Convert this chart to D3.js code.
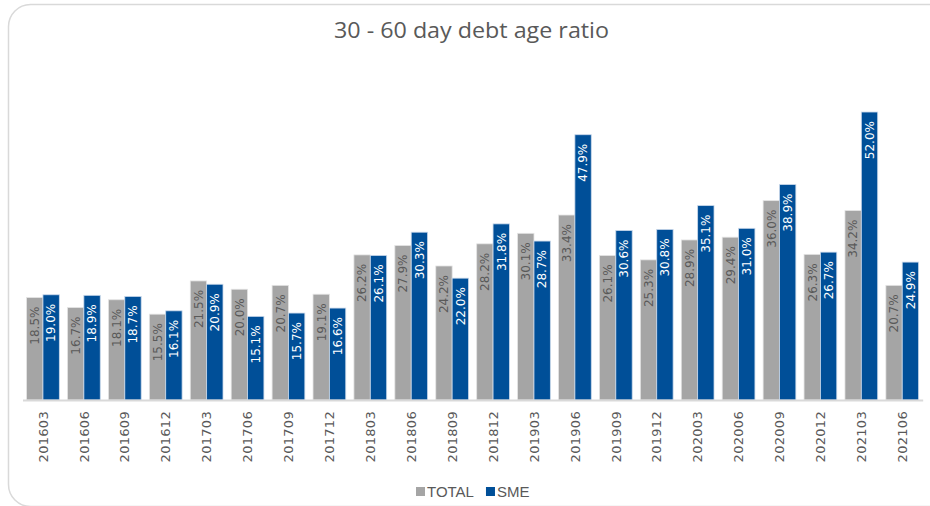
<!DOCTYPE html>
<html><head><meta charset="utf-8">
<script src="https://cdn.jsdelivr.net/npm/d3@7"></script>
<style>html,body{margin:0;padding:0;background:#fff;}svg{display:block;}</style>
</head><body>
<svg id="c" width="930" height="506"></svg>
<script>
const categories = ["201603","201606","201609","201612","201703","201706","201709","201712","201803","201806","201809","201812","201903","201906","201909","201912","202003","202006","202009","202012","202103","202106"];
const totalValues = [18.5,16.7,18.1,15.5,21.5,20.0,20.7,19.1,26.2,27.9,24.2,28.2,30.1,33.4,26.1,25.3,28.9,29.4,36.0,26.3,34.2,20.7];
const smeValues = [19.0,18.9,18.7,16.1,20.9,15.1,15.7,16.6,26.1,30.3,22.0,31.8,28.7,47.9,30.6,30.8,35.1,31.0,38.9,26.7,52.0,24.9];
const seriesNames = ["TOTAL","SME"];
const title = "30 - 60 day debt age ratio";

const colors = {TOTAL:"#A5A5A5", SME:"#004F98"};
const labelColors = {TOTAL:"#595959", SME:"#FFFFFF"};

const svg = d3.select("#c");
// frame
svg.append("rect").attr("x",8.5).attr("y",4.5).attr("width",960).attr("height",502)
  .attr("rx",22).attr("fill","#fff").attr("stroke","#d9d9d9").attr("stroke-width",1.5);

svg.append("text").attr("x",471.5).attr("y",38).attr("text-anchor","middle")
  .attr("font-family","Open Sans").attr("font-size",22).attr("fill","#595959")
  .attr("textLength",275).attr("lengthAdjust","spacingAndGlyphs").text(title);

const x0 = d3.scaleBand().domain(categories).range([22.5,922.7]).paddingInner(0.2).paddingOuter(0.1);
const x1 = d3.scaleBand().domain(seriesNames).range([0,x0.bandwidth()]);
const y = d3.scaleLinear().domain([0,60]).range([400,400-60*5.538]);

const data = seriesNames.map(s => ({name:s, values: s==="TOTAL"?totalValues:smeValues}));

const g = svg.append("g");
data.forEach(s => {
  const gs = g.append("g");
  gs.selectAll("rect").data(s.values).join("rect")
    .attr("x",(d,i)=>x0(categories[i])+x1(s.name))
    .attr("y",d=>y(d))
    .attr("width",x1.bandwidth())
    .attr("height",d=>y(0)-y(d))
    .attr("fill",colors[s.name])
    .attr("stroke", s.name==="SME" ? "#c9d8ea" : "#e4e4e4")
    .attr("stroke-width",0.8);
  gs.selectAll("text").data(s.values).join("text")
    .attr("transform",(d,i)=>{
      const cx = x0(categories[i])+x1(s.name)+x1.bandwidth()/2;
      return `translate(${cx},${y(d)+9}) rotate(-90)`;
    })
    .attr("text-anchor","end").attr("dy","0.36em")
    .attr("font-family","DejaVu Sans").attr("font-size",12)
    .attr("fill",labelColors[s.name])
    .text(d=>d.toFixed(1)+"%");
});

// baseline axis
const xAxis = d3.axisBottom(x0).tickSize(0).tickPadding(0);
const ax = svg.append("g").attr("transform","translate(0,400)").call(xAxis);
ax.select(".domain").attr("stroke","#d9d9d9").attr("stroke-width",2);
ax.selectAll(".tick text")
  .attr("transform","translate(0,11) rotate(-90)")
  .attr("text-anchor","end").attr("dy","0.36em").attr("x",0).attr("y",0)
  .attr("font-family","DejaVu Sans").attr("font-size",13).attr("letter-spacing","0.3px")
  .attr("fill","#595959");

// legend
const leg = svg.append("g").attr("transform","translate(416,492)");
let lx = 0;
seriesNames.forEach((s,i)=>{
  leg.append("rect").attr("x",lx).attr("y",-5).attr("width",9).attr("height",9).attr("fill",colors[s]);
  const t = leg.append("text").attr("x",lx+11).attr("y",0).attr("dy","0.35em")
    .attr("font-family","Liberation Sans").attr("font-size",15).attr("fill","#595959").text(s);
  lx += 11 + t.node().getComputedTextLength() + 12;
});
</script>
</body></html>
